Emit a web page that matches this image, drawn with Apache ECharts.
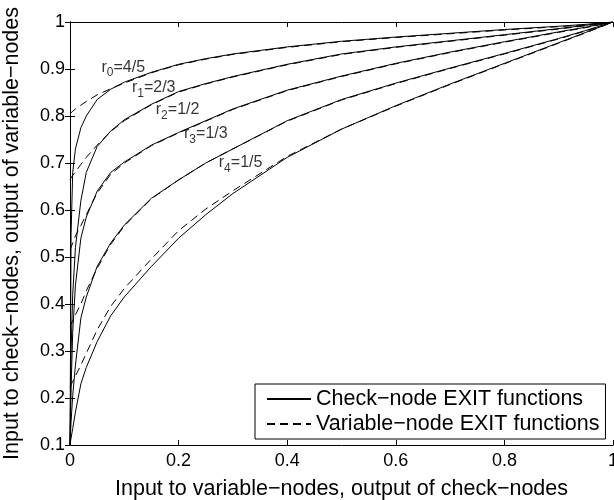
<!DOCTYPE html>
<html>
<head>
<meta charset="utf-8">
<script src="https://cdn.jsdelivr.net/npm/echarts@6/dist/echarts.min.js"></script>
<style>
  html, body { margin: 0; padding: 0; background: #fff; }
  #main { width: 614px; height: 500px; }
</style>
</head>
<body>
<div id="main"></div>
<script>
const xGrid = [0, 0.002, 0.005, 0.01, 0.02, 0.03, 0.05, 0.075, 0.1, 0.15, 0.2, 0.25, 0.3, 0.4, 0.5, 0.6, 0.7, 0.8, 0.9, 0.95, 1];

// check-node EXIT functions (solid)
const check0 = [0.10, 0.55, 0.68, 0.73, 0.775, 0.80, 0.835, 0.857, 0.872, 0.893, 0.910, 0.922, 0.932, 0.947, 0.959, 0.968, 0.976, 0.984, 0.991, 0.995, 1];
const check1 = [0.10, 0.30, 0.42, 0.52, 0.62, 0.68, 0.735, 0.768, 0.792, 0.825, 0.852, 0.869, 0.884, 0.910, 0.932, 0.947, 0.960, 0.973, 0.986, 0.993, 1];
const check2 = [0.10, 0.22, 0.34, 0.44, 0.54, 0.585, 0.64, 0.68, 0.702, 0.738, 0.765, 0.79, 0.815, 0.855, 0.885, 0.912, 0.936, 0.958, 0.979, 0.989, 1];
const check3 = [0.10, 0.15, 0.205, 0.27, 0.37, 0.415, 0.48, 0.53, 0.568, 0.625, 0.664, 0.70, 0.73, 0.79, 0.835, 0.870, 0.902, 0.933, 0.965, 0.982, 1];
const check4 = [0.10, 0.115, 0.135, 0.17, 0.23, 0.265, 0.32, 0.375, 0.415, 0.48, 0.54, 0.59, 0.635, 0.712, 0.772, 0.822, 0.868, 0.912, 0.956, 0.978, 1];

// variable-node EXIT functions (dashed)
const var0 = [0.805, 0.807, 0.81, 0.815, 0.823, 0.831, 0.845, 0.858, 0.870, 0.892, 0.909, 0.921, 0.931, 0.946, 0.958, 0.967, 0.975, 0.983, 0.990, 0.994, 1];
const var1 = [0.665, 0.669, 0.674, 0.681, 0.697, 0.712, 0.738, 0.767, 0.790, 0.824, 0.851, 0.868, 0.883, 0.909, 0.931, 0.946, 0.959, 0.972, 0.985, 0.992, 1];
const var2 = [0.515, 0.521, 0.53, 0.545, 0.567, 0.59, 0.636, 0.676, 0.700, 0.737, 0.764, 0.789, 0.814, 0.854, 0.884, 0.911, 0.935, 0.957, 0.978, 0.988, 1];
const var3 = [0.352, 0.357, 0.365, 0.377, 0.40, 0.428, 0.476, 0.527, 0.566, 0.624, 0.664, 0.70, 0.73, 0.789, 0.834, 0.869, 0.901, 0.932, 0.964, 0.981, 1];
const var4 = [0.224, 0.228, 0.235, 0.247, 0.27, 0.295, 0.345, 0.395, 0.433, 0.496, 0.556, 0.602, 0.641, 0.714, 0.772, 0.821, 0.867, 0.911, 0.955, 0.977, 1];

// rate labels
const rateSub = ['0', '1', '2', '3', '4'];
const rateFrac = ['4/5', '2/3', '1/2', '1/3', '1/5'];
const rateLabelX = [0.058, 0.114, 0.158, 0.21, 0.274];
const rateLabelY = [0.904, 0.860, 0.813, 0.762, 0.701];

const checkName = 'Check\u2212node EXIT functions';
const varName = 'Variable\u2212node EXIT functions';
const FONT = '"Liberation Sans", Arial, Helvetica, sans-serif';

const checkCurves = [check0, check1, check2, check3, check4];
const varCurves = [var0, var1, var2, var3, var4];

function pairs(ys) {
  return xGrid.map((x, i) => [x, ys[i]]);
}

const series = [];
checkCurves.forEach(ys => {
  series.push({
    name: checkName, type: 'line', data: pairs(ys), symbol: 'none',
    lineStyle: { color: '#000', width: 1, type: 'solid' },
    itemStyle: { color: '#000' }
  });
});
varCurves.forEach(ys => {
  series.push({
    name: varName, type: 'line', data: pairs(ys), symbol: 'none',
    lineStyle: { color: '#000', width: 1, type: [8, 5] },
    itemStyle: { color: '#000' }
  });
});
series.push({
  type: 'scatter', symbolSize: 0, silent: true,
  data: rateSub.map((s, i) => [rateLabelX[i], rateLabelY[i], i]),
  label: {
    show: true, position: [0, 0], align: 'left', verticalAlign: 'middle',
    formatter: p => '{m|r}{s|' + rateSub[p.data[2]] + '}{m|=' + rateFrac[p.data[2]] + '}',
    rich: {
      m: { fontSize: 16, fontFamily: FONT, color: '#000' },
      s: { fontSize: 12, fontFamily: FONT, color: '#000', padding: [12, 0, 0, 0] }
    }
  }
});

const axisCommon = {
  axisLine: { show: true, lineStyle: { color: '#000', width: 1 } },
  axisTick: { show: true, inside: true, length: 5, lineStyle: { color: '#000' } },
  splitLine: { show: false }
};

const option = {
  animation: false,
  backgroundColor: '#fff',
  grid: { left: 70, right: 1, top: 22, bottom: 55, containLabel: false, outerBoundsMode: 'none' },
  legend: {
    data: [checkName, varName],
    orient: 'vertical',
    left: 255, top: 384,
    padding: [4, 6, 4, 11],
    itemWidth: 44, itemHeight: 20, itemGap: 3,
    borderColor: '#000', borderWidth: 1, borderRadius: 0,
    backgroundColor: '#fff',
    itemStyle: { opacity: 0 },
    textStyle: { fontSize: 21.5, fontFamily: FONT, color: '#000' }
  },
  xAxis: [
    Object.assign({
      type: 'value', min: 0, max: 1, interval: 0.2, position: 'bottom',
      name: 'Input to variable\u2212nodes, output of check\u2212nodes',
      nameLocation: 'middle', nameGap: 33,
      nameTextStyle: { fontSize: 21.5, fontFamily: FONT, color: '#000' },
      axisLabel: { fontSize: 18, fontFamily: FONT, color: '#000', margin: 7 }
    }, axisCommon),
    Object.assign({
      type: 'value', min: 0, max: 1, interval: 0.2, position: 'top',
      axisLabel: { show: false }
    }, axisCommon)
  ],
  yAxis: [
    Object.assign({
      type: 'value', min: 0.1, max: 1, interval: 0.1, position: 'left',
      name: 'Input to check\u2212nodes, output of variable\u2212nodes',
      nameLocation: 'middle', nameGap: 47,
      nameTextStyle: { fontSize: 21.5, fontFamily: FONT, color: '#000' },
      axisLabel: { fontSize: 18, fontFamily: FONT, color: '#000', margin: 5 }
    }, axisCommon),
    Object.assign({
      type: 'value', min: 0.1, max: 1, interval: 0.1, position: 'right',
      axisLabel: { show: false }
    }, axisCommon)
  ],
  series: series
};

const chart = echarts.init(document.getElementById('main'), null, { renderer: 'canvas' });
chart.setOption(option);
</script>
</body>
</html>
